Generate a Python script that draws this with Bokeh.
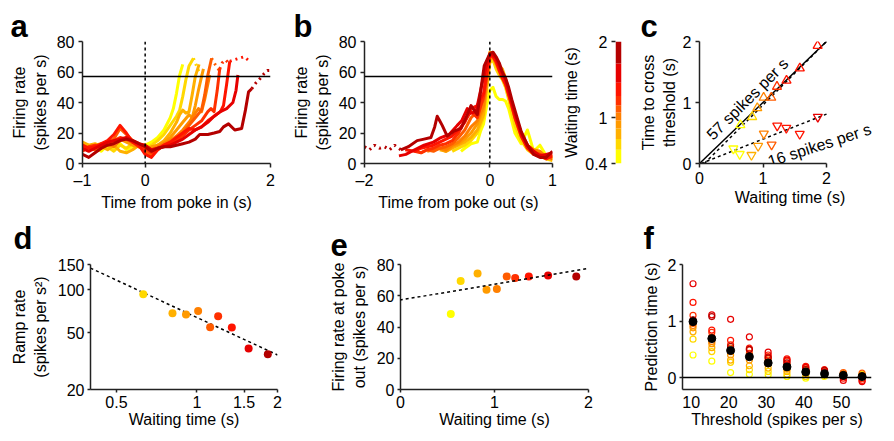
import numpy as np
from bokeh.plotting import figure
from bokeh.layouts import row, column
from bokeh.models import FixedTicker, Label, Span, Slope, Whisker, ColumnDataSource
from bokeh.embed import file_html
from bokeh.resources import INLINE

FONT = "Liberation Sans"

# ---------------- data ----------------
WAIT = [0.53, 0.63, 0.81, 0.91, 1.02, 1.12, 1.21, 1.36, 1.56, 1.86]
COLORS = ["#ffff00", "#ffd800", "#ffb000", "#ff9a00", "#ff8000",
          "#ff5c00", "#ff3000", "#ff1400", "#e60000", "#b40000"]
THRESH_HIGH = 57

# panel a: firing rate vs time from poke in
A_T_EARLY = [-1, -0.9, -0.8, -0.7, -0.6, -0.5, -0.4, -0.3, -0.2, -0.1, 0, 0.1, 0.2, 0.3]
A_R_EARLY = [
    [13, 9, 11, 8, 12, 10, 13, 9, 11, 12, 12, 14, 17, 22],
    [10, 12, 9, 13, 11, 8, 12, 10, 13, 11, 10, 12, 15, 19],
    [14, 12, 13, 11, 9, 12, 8, 7, 9, 12, 11, 10, 12, 15],
    [11, 10, 12, 13, 12, 14, 16, 14, 12, 11, 9, 11, 12, 14],
    [9, 11, 10, 12, 13, 11, 15, 17, 14, 12, 10, 9, 11, 13],
    [12, 10, 9, 11, 14, 16, 23, 19, 15, 13, 8, 5, 9, 12],
    [8, 11, 12, 10, 13, 15, 17, 16, 14, 11, 10, 7, 10, 12],
    [12, 10, 11, 13, 15, 19, 25, 20, 14, 12, 6, 4, 9, 12],
    [10, 8, 10, 12, 14, 15, 16, 17, 15, 13, 12, 9, 10, 11],
    [6, 4, 7, 10, 12, 13, 15, 16, 15, 13, 11, 8, 10, 11],
]
A_T_RISE = [
    [0.4, 0.45, 0.5, 0.55, 0.6],
    [0.4, 0.5, 0.55, 0.6, 0.65, 0.7, 0.77],
    [0.4, 0.5, 0.55, 0.6, 0.65, 0.7, 0.75, 0.8, 0.86],
    [0.4, 0.5, 0.6, 0.7, 0.75, 0.8, 0.85, 0.9, 0.93],
    [0.4, 0.5, 0.6, 0.7, 0.8, 0.85, 0.9, 0.95, 1.0, 1.03],
    [0.4, 0.5, 0.6, 0.7, 0.8, 0.9, 0.95, 1.0, 1.06],
    [0.4, 0.5, 0.6, 0.7, 0.8, 0.9, 1.0, 1.05, 1.1, 1.15, 1.19],
    [0.4, 0.5, 0.6, 0.7, 0.8, 0.9, 1.0, 1.1, 1.2, 1.25, 1.3, 1.35],
    [0.4, 0.5, 0.6, 0.7, 0.8, 0.9, 1.0, 1.1, 1.2, 1.3, 1.4, 1.45, 1.48],
    [0.4, 0.5, 0.6, 0.7, 0.8, 0.87, 1.0, 1.1, 1.19, 1.25, 1.33, 1.43, 1.54, 1.6, 1.65, 1.7],
]
A_R_RISE = [
    [30, 36, 46, 58, 65],
    [25, 31, 35, 44, 55, 64, 69],
    [20, 27, 32, 35, 33, 34, 45, 57, 65],
    [17, 22, 27, 32, 30, 38, 48, 57, 62],
    [15, 18, 22, 27, 33, 36, 34, 42, 52, 58],
    [14, 17, 20, 25, 30, 35, 45, 58, 69],
    [13, 15, 18, 22, 25, 28, 34, 36, 34, 48, 62],
    [14, 17, 20, 23, 22, 24, 28, 31, 34, 38, 52, 67],
    [12, 14, 16, 19, 22, 24, 27, 31, 34, 36, 40, 48, 58],
    [11, 12, 13, 14, 16, 19, 19, 20, 21, 24, 26, 22, 23, 35, 47, 49],
]
A_T_DOT = [[], [0.8, 0.84, 0.88], [], [], [], [1.1, 1.15, 1.2], [1.23, 1.28, 1.33],
           [1.42, 1.5, 1.58, 1.64], [], [1.77, 1.84, 1.9, 1.95, 1.99]]
A_R_DOT = [[], [66, 62, 58], [], [], [], [66, 63, 60], [66, 68, 66],
           [68, 69, 70, 68], [], [53, 56, 59, 61, 61]]

# panel b: firing rate vs time from poke out
B_T_PRE = [
    [-0.46, -0.4, -0.3, -0.2, -0.15, -0.1, -0.05],
    [-0.6, -0.5, -0.4, -0.3, -0.2, -0.1, -0.05],
    [-0.8, -0.7, -0.6, -0.5, -0.4, -0.3, -0.2, -0.1, -0.05],
    [-0.9, -0.8, -0.7, -0.6, -0.5, -0.4, -0.3, -0.2, -0.1, -0.05],
    [-1.0, -0.9, -0.8, -0.7, -0.6, -0.5, -0.4, -0.3, -0.2, -0.1, -0.05],
    [-1.1, -1.0, -0.9, -0.8, -0.7, -0.6, -0.5, -0.4, -0.3, -0.2, -0.1, -0.05],
    [-1.2, -1.1, -1.0, -0.9, -0.8, -0.7, -0.6, -0.5, -0.4, -0.3, -0.2, -0.1, -0.05],
    [-1.35, -1.2, -1.1, -1.0, -0.9, -0.8, -0.7, -0.6, -0.5, -0.4, -0.3, -0.2, -0.1, -0.05],
    [-1.45, -1.34, -1.2, -1.05, -0.9, -0.78, -0.65, -0.52, -0.45, -0.36, -0.3, -0.22, -0.12, -0.05],
    [-1.42, -1.3, -1.16, -1.05, -0.94, -0.88, -0.84, -0.8, -0.76, -0.68, -0.58, -0.46, -0.38, -0.3, -0.2, -0.09],
]
B_R_PRE = [
    [8, 10, 13, 14, 21, 26, 38],
    [8, 10, 12, 15, 20, 30, 48],
    [9, 8, 10, 12, 14, 17, 22, 32, 52],
    [9, 10, 8, 11, 13, 16, 20, 26, 36, 52],
    [8, 9, 10, 9, 12, 14, 18, 24, 28, 38, 55],
    [7, 9, 8, 10, 11, 13, 17, 22, 30, 34, 42, 56],
    [8, 7, 9, 10, 12, 13, 15, 20, 28, 34, 30, 44, 58],
    [9, 8, 10, 11, 12, 14, 16, 18, 22, 27, 36, 38, 46, 60],
    [5, 6, 9, 12, 14, 17, 19, 25, 28, 36, 33, 34, 53, 65],
    [9, 11, 15, 16, 17, 24, 31, 28, 25, 18, 21, 23, 30, 38, 32, 64],
]
B_T_POST = [0, 0.05, 0.1, 0.15, 0.2, 0.25, 0.3, 0.35, 0.4, 0.5, 0.6, 0.7, 0.8, 0.9, 1.0]
B_R_POST = [
    [48, 50, 44, 42, 42, 41, 36, 28, 20, 13, 22, 8, 12, 5, 3],
    [66, 68, 62, 58, 55, 50, 42, 33, 25, 15, 9, 6, 5, 3, 2],
    [73, 72, 66, 64, 62, 56, 48, 38, 30, 18, 10, 8, 6, 4, 2],
    [68, 70, 65, 60, 56, 52, 45, 37, 30, 18, 11, 7, 7, 5, 4],
    [70, 71, 68, 64, 58, 54, 47, 38, 31, 19, 12, 9, 8, 4, 5],
    [71, 70, 66, 62, 57, 52, 46, 39, 31, 20, 12, 8, 6, 5, 3],
    [70, 72, 68, 63, 58, 54, 47, 40, 32, 20, 11, 7, 6, 4, 6],
    [71, 70, 67, 61, 56, 52, 45, 38, 30, 18, 10, 6, 5, 3, 5],
    [72, 71, 69, 64, 59, 55, 48, 40, 33, 20, 12, 8, 5, 6, 7],
    [72, 73, 70, 66, 60, 56, 50, 42, 35, 21, 12, 6, 4, 4, 8],
]
B_T_DOT = [-2.0, -1.92, -1.84, -1.76, -1.68, -1.6, -1.52, -1.42]
B_R_DOT = [11, 9, 12, 10, 11, 9, 12, 9]

# panel c: time to cross threshold vs waiting time
C_UP_W = [0.644, 0.83, 0.91, 1.01, 1.13, 1.22, 1.37, 1.58, 1.86]
C_UP_T = [0.631, 0.764, 0.91, 1.08, 1.08, 1.26, 1.36, 1.56, 1.93]
C_UP_C = [0, 1, 3, 4, 5, 6, 7, 7, 7]
C_DN_W = [0.533, 0.633, 0.818, 0.923, 1.013, 1.135, 1.224, 1.367, 1.578, 1.863]
C_DN_T = [0.244, 0.154, 0.138, 0.286, 0.488, 0.308, 0.62, 0.584, 0.483, 0.764]
C_DN_C = [0, 0, 2, 3, 4, 5, 7, 7, 7, 8]
C_FIT_UP = (1.04, -0.08)
C_FIT_DN = (0.41, -0.01)
C_AXIS = (0, 2)

# panel d: ramp rate vs waiting time (log-log)
D_W = [0.63, 0.81, 0.91, 1.01, 1.12, 1.2, 1.35, 1.56, 1.84]
D_RATE = [92.7, 68.4, 66.9, 71.0, 54.6, 65.2, 54.3, 38.8, 35.3]
D_C = [1, 2, 3, 4, 5, 6, 7, 8, 9]
D_FIT = (63.8, -0.87)

# panel e: firing rate at poke out vs waiting time
E_W = [0.535, 0.64, 0.82, 0.915, 1.025, 1.13, 1.22, 1.365, 1.57, 1.87]
E_RATE = [48.4, 69.4, 74.3, 63.9, 64.3, 72.4, 71.3, 72.4, 73.0, 72.4]
E_FIT = (10.1, 57.3)

# panel f: prediction time vs threshold
F_TH = [10.5, 15.5, 20.5, 25.5, 30.5, 35.5, 40.5, 45.5, 50.5, 55.5]
F_VALS = [
    [0.40, 0.68, 0.81, 0.88, 0.92, 0.96, 1.10, 1.33, 1.66, 1.02],
    [0.29, 0.46, 0.53, 0.60, 0.64, 0.72, 0.80, 0.84, 1.11, 1.08],
    [0.09, 0.27, 0.31, 0.40, 0.46, 0.52, 0.58, 0.66, 1.03, 0.55],
    [0.06, 0.14, 0.21, 0.31, 0.37, 0.43, 0.49, 0.52, 0.72, 0.50],
    [0.05, 0.11, 0.17, 0.24, 0.29, 0.33, 0.37, 0.40, 0.45, 0.35],
    [0.02, 0.06, 0.11, 0.15, 0.20, 0.24, 0.29, 0.33, 0.31, 0.26],
    [-0.01, 0.02, 0.07, 0.11, 0.13, 0.15, 0.17, 0.20, 0.18, 0.14],
    [0.02, 0.04, 0.05, 0.07, 0.08, 0.10, 0.12, 0.14, 0.10, 0.13],
    [0.02, 0.03, 0.05, 0.06, 0.07, 0.09, 0.04, -0.01, -0.05, 0.02],
    [0.05, 0.06, 0.04, 0.01, 0.03, 0.08, -0.02, -0.05, -0.07, 0.01],
]
F_MEAN = [0.99, 0.69, 0.48, 0.37, 0.26, 0.19, 0.10, 0.07, 0.04, 0.02]
F_ERR = [0.09, 0.07, 0.06, 0.05, 0.04, 0.03, 0.02, 0.02, 0.02, 0.02]

CB_TICKS = [0.4, 1, 2]

# ---------------- helpers ----------------
def mkfig(w, h, xr, yr, left, right, top, bottom, row2=False, **kw):
    p = figure(width=w, height=h, x_range=xr, y_range=yr, output_backend="svg",
               toolbar_location=None, min_border_left=left, min_border_right=right,
               min_border_top=top, min_border_bottom=bottom, **kw)
    p.outline_line_color = None
    p.xgrid.visible = False
    p.ygrid.visible = False
    for ax in p.axis:
        ax.major_label_text_font = FONT
        ax.major_label_text_font_size = "16px"
        ax.major_label_text_color = "black"
        ax.axis_label_text_font = FONT
        ax.axis_label_text_font_size = "16px"
        ax.axis_label_text_font_style = "normal"
        ax.axis_label_text_color = "black"
        ax.minor_tick_line_color = None
        ax.major_tick_in = 0
        ax.major_tick_out = 3 if row2 else 4
        ax.major_tick_line_width = 1.5
        ax.axis_line_width = 1.5
        ax.axis_line_color = "#222222"
        ax.major_tick_line_color = "#222222"
        ax.major_label_standoff = 3 if row2 else 4
        ax.axis_label_standoff = 0 if row2 else 2
    return p


def letter(p, text, offset, standoff, valign="bottom"):
    p.title.text = text
    p.title.align = "left"
    p.title.vertical_align = valign
    p.title.offset = offset
    p.title.standoff = standoff
    p.title.text_font = FONT
    p.title.text_font_size = "31px"
    p.title.text_font_style = "bold"
    p.title.text_color = "black"


def ticks(ax, vals, labels):
    ax.ticker = FixedTicker(ticks=vals)
    ax.major_label_overrides = dict(zip(vals, labels))


H1, T1, B1 = 213, 41, 46
H2, T2, B2 = 220, 51, 44

# ---------------- panel a ----------------
pa = mkfig(290, H1, (-1, 2), (0, 80), 82, 20, T1, B1)
for i in range(10):
    t = A_T_EARLY + A_T_RISE[i]
    r = A_R_EARLY[i] + A_R_RISE[i]
    pa.line(t, r, line_color=COLORS[i], line_width=3, line_join="round")
    if A_T_DOT[i]:
        pa.line([t[-1]] + A_T_DOT[i], [r[-1]] + A_R_DOT[i], line_color=COLORS[i],
                line_width=3, line_dash="2 4")
pa.add_layout(Span(location=THRESH_HIGH, dimension="width", line_color="black", line_width=1.5))
pa.add_layout(Span(location=0, dimension="height", line_color="black", line_width=1.5, line_dash="3 3"))
ticks(pa.xaxis[0], [-1, 0, 2], ["\u20131", "0", "2"])
ticks(pa.yaxis[0], [0, 20, 40, 60, 80], ["0", "20", "40", "60", "80"])
pa.xaxis.axis_label = "Time from poke in (s)"
pa.yaxis.axis_label = "Firing rate\n(spikes per s)"
pa.yaxis.axis_label_standoff = 5
letter(pa, "a", -72, -5)

# ---------------- panel b ----------------
pb = mkfig(270, H1, (-2, 1), (0, 80), 74, 8, T1, B1)
pb.line(B_T_DOT, B_R_DOT, line_color=COLORS[9], line_width=3, line_dash="2 4")
for i in range(10):
    t = B_T_PRE[i] + B_T_POST
    r = B_R_PRE[i] + B_R_POST[i]
    pb.line(t, r, line_color=COLORS[i], line_width=3, line_join="round")
pb.add_layout(Span(location=THRESH_HIGH, dimension="width", line_color="black", line_width=1.5))
pb.add_layout(Span(location=0, dimension="height", line_color="black", line_width=1.5, line_dash="3 3"))
ticks(pb.xaxis[0], [-2, 0, 1], ["\u20132", "0", "1"])
ticks(pb.yaxis[0], [0, 20, 40, 60, 80], ["0", "20", "40", "60", "80"])
pb.xaxis.axis_label = "Time from poke out (s)"
pb.yaxis.axis_label = "Firing rate\n(spikes per s)"
pb.yaxis.axis_label_standoff = 5
letter(pb, "b", -71, -5)

# ---------------- colour bar ----------------
edges = [CB_TICKS[0]] + [(WAIT[i] + WAIT[i + 1]) / 2 for i in range(9)] + [CB_TICKS[-1]]
pcb = mkfig(70, H1, (0, 1), (CB_TICKS[0], CB_TICKS[-1]), 52, 9, T1, B1)
pcb.quad(left=0, right=1, bottom=edges[:-1], top=edges[1:], fill_color=COLORS, line_color=None)
pcb.xaxis.visible = False
ticks(pcb.yaxis[0], CB_TICKS, ["0.4", "1", "2"])
pcb.yaxis.axis_line_color = None
pcb.yaxis.axis_label = "Waiting time (s)"
pcb.yaxis.axis_label_standoff = 2

# ---------------- panel c ----------------
pc = mkfig(256, H1, (0, 2.85), (0, 2), 69, 6, T1, B1)
cx = np.array(C_AXIS, dtype=float)
pc.line(cx, cx, line_color="black", line_width=1.5)
x0u = -C_FIT_UP[1] / C_FIT_UP[0]
pc.line([x0u, C_AXIS[1]], [0, C_FIT_UP[0] * C_AXIS[1] + C_FIT_UP[1]], line_color="black",
        line_width=1.5, line_dash="3 3")
x0d = -C_FIT_DN[1] / C_FIT_DN[0]
pc.line([x0d, C_AXIS[1]], [0, C_FIT_DN[0] * C_AXIS[1] + C_FIT_DN[1]], line_color="black",
        line_width=1.5, line_dash="3 3")
pc.scatter(C_UP_W, C_UP_T, marker="triangle", size=9, fill_color=None,
           line_color=[COLORS[c] for c in C_UP_C], line_width=1.3)
pc.scatter(C_DN_W, C_DN_T, marker="inverted_triangle", size=9, fill_color=None,
           line_color=[COLORS[c] for c in C_DN_C], line_width=1.3)
ticks(pc.xaxis[0], [0, 1, 2], ["0", "1", "2"])
ticks(pc.yaxis[0], [0, 1, 2], ["0", "1", "2"])
pc.xaxis.bounds = C_AXIS
pc.xaxis.axis_label = "Waiting time (s)"
pc.yaxis.axis_label = "Time to cross\nthreshold (s)"
pc.add_layout(Label(x=0.755, y=1.056, text="57 spikes per s", angle=np.deg2rad(45),
                    text_align="center", text_baseline="middle", text_font=FONT,
                    text_font_size="16px", text_color="black"))
pc.add_layout(Label(x=1.89, y=0.30, text="16 spikes per s", angle=np.deg2rad(18),
                    text_align="center", text_baseline="middle", text_font=FONT,
                    text_font_size="16px", text_color="black"))
letter(pc, "c", -59, -5)

# ---------------- panel d ----------------
pd_ = mkfig(290, H2, (0.4, 2), (20, 150), 90, 13, T2, B2, row2=True,
            x_axis_type="log", y_axis_type="log")
dx = [pd_.x_range.start, pd_.x_range.end]
pd_.line(dx, [D_FIT[0] * v ** D_FIT[1] for v in dx], line_color="black", line_width=1.5,
         line_dash="3 3")
pd_.scatter(D_W, D_RATE, size=8, fill_color=[COLORS[c] for c in D_C], line_color=None)
ticks(pd_.xaxis[0], [0.5, 1, 1.5, 2], ["0.5", "1", "1.5", "2"])
ticks(pd_.yaxis[0], [20, 50, 100, 150], ["20", "50", "100", "150"])
pd_.xaxis.axis_label = "Waiting time (s)"
pd_.yaxis.axis_label = "Ramp rate\n(spikes per s\u00b2)"
pd_.yaxis.axis_label_standoff = 6
letter(pd_, "d", -77, 14, "top")

# ---------------- panel e ----------------
pe = mkfig(330, H2, (0, 2), (0, 80), 110, 32, T2, B2, row2=True)
pe.add_layout(Slope(gradient=E_FIT[0], y_intercept=E_FIT[1], line_color="black",
                    line_width=1.5, line_dash="3 3"))
pe.scatter(E_W, E_RATE, size=8, fill_color=COLORS, line_color=None)
ticks(pe.xaxis[0], [0, 1, 2], ["0", "1", "2"])
ticks(pe.yaxis[0], [0, 20, 40, 60, 80], ["0", "20", "40", "60", "80"])
pe.xaxis.axis_label = "Waiting time (s)"
pe.yaxis.axis_label = "Firing rate at poke\nout (spikes per s)"
pe.yaxis.axis_label_standoff = 6
letter(pe, "e", -70, 14, "top")

# ---------------- panel f ----------------
pf = mkfig(266, H2, (7.7, 58), (-0.21, 2), 62, 15, T2, B2, row2=True)
pf.add_layout(Span(location=0, dimension="width", line_color="black", line_width=1.5))
fx, fy, fc = [], [], []
for j, th in enumerate(F_TH):
    for i, v in enumerate(F_VALS[j]):
        fx.append(th)
        fy.append(v)
        fc.append(COLORS[i])
pf.scatter(fx, fy, size=6, fill_color=None, line_color=fc, line_width=1.2)
fsrc = ColumnDataSource(dict(x=F_TH, m=F_MEAN,
                             lo=[m - e for m, e in zip(F_MEAN, F_ERR)],
                             hi=[m + e for m, e in zip(F_MEAN, F_ERR)]))
pf.add_layout(Whisker(base="x", lower="lo", upper="hi", source=fsrc, line_color="black",
                      line_width=1.5, upper_head=None, lower_head=None))
pf.scatter("x", "m", source=fsrc, size=8, fill_color="black", line_color="black")
ticks(pf.xaxis[0], [10, 20, 30, 40, 50], ["10", "20", "30", "40", "50"])
ticks(pf.yaxis[0], [0, 1, 2], ["0", "1", "2"])
pf.xaxis.major_tick_line_color = None
pf.xaxis.axis_label = "Threshold (spikes per s)"
pf.yaxis.axis_label = "Prediction time (s)"
pf.yaxis.axis_label_standoff = 5
letter(pf, "f", -39, 14, "top")

layout = column(row(pa, pb, pcb, pc), row(pd_, pe, pf))
open("out.html", "w").write(file_html(layout, INLINE))
